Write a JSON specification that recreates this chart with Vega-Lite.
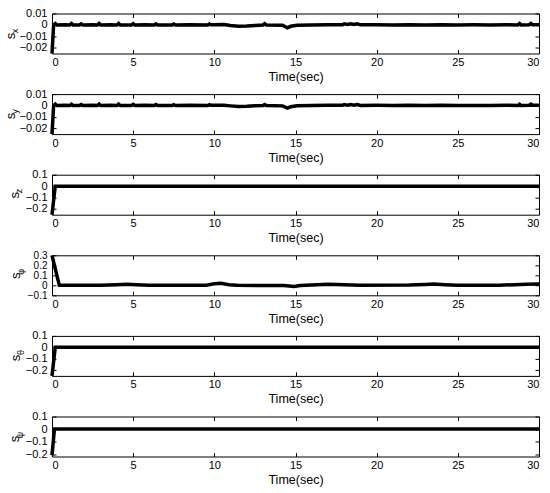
{
  "$schema": "https://vega.github.io/schema/vega-lite/v6.json",
  "background": "white",
  "padding": {"left": 3, "top": 6.5, "right": 4, "bottom": 2},
  "config": {
    "view": {"stroke": "black", "strokeWidth": 1},
    "font": "Liberation Sans",
    "axis": {
      "domain": false, "grid": false, "tickColor": "black", "tickSize": -4, "tickWidth": 1,
      "labelFont": "Liberation Sans", "labelFontSize": 11, "labelColor": "black", "labelOverlap": false, "format": "~g",
      "titleFont": "Liberation Sans", "titleColor": "black", "titleFontWeight": "normal"
    },
    "line": {"color": "black", "strokeWidth": 3.5, "clip": true}
  },
  "data": {"values": [
    {"s":"x","t":0,"v":-0.025},{"s":"x","t":0.1,"v":0.0},{"s":"x","t":0.2,"v":0.0012},{"s":"x","t":0.3,"v":0.0},{"s":"x","t":0.8,"v":0.0002},{"s":"x","t":1.1,"v":0.0},{"s":"x","t":1.2,"v":0.0012},{"s":"x","t":1.3,"v":0.0},{"s":"x","t":1.7,"v":0.0},{"s":"x","t":1.8,"v":0.001},{"s":"x","t":1.9,"v":0.0},{"s":"x","t":2.5,"v":0.0002},{"s":"x","t":2.8,"v":0.0},{"s":"x","t":2.9,"v":0.0013},{"s":"x","t":3.0,"v":0.0},{"s":"x","t":3.6,"v":0.0002},{"s":"x","t":4.0,"v":0.0},{"s":"x","t":4.1,"v":0.0013},{"s":"x","t":4.2,"v":0.0},{"s":"x","t":4.9,"v":0.0},{"s":"x","t":5.0,"v":0.0011},{"s":"x","t":5.1,"v":0.0},{"s":"x","t":5.7,"v":0.0002},{"s":"x","t":6.3,"v":0.0},{"s":"x","t":6.4,"v":0.0009},{"s":"x","t":6.5,"v":0.0},{"s":"x","t":7.4,"v":0.0},{"s":"x","t":7.5,"v":0.0008},{"s":"x","t":7.6,"v":0.0},{"s":"x","t":8.5,"v":0.0002},{"s":"x","t":9.6,"v":0.0},{"s":"x","t":9.7,"v":0.0009},{"s":"x","t":9.8,"v":0.0002},{"s":"x","t":10.6,"v":0.0003},{"s":"x","t":11.0,"v":-0.0004},{"s":"x","t":11.5,"v":-0.0011},{"s":"x","t":12.0,"v":-0.001},{"s":"x","t":12.5,"v":-0.0004},{"s":"x","t":13.0,"v":0.0},{"s":"x","t":13.1,"v":0.0011},{"s":"x","t":13.2,"v":0.0},{"s":"x","t":14.2,"v":-0.0003},{"s":"x","t":14.5,"v":-0.0025},{"s":"x","t":14.7,"v":-0.0012},{"s":"x","t":15.1,"v":-0.0002},{"s":"x","t":16.0,"v":0.0},{"s":"x","t":17.0,"v":0.0002},{"s":"x","t":17.9,"v":0.0002},{"s":"x","t":18.0,"v":0.0009},{"s":"x","t":18.2,"v":0.0004},{"s":"x","t":18.4,"v":0.0009},{"s":"x","t":18.6,"v":0.0004},{"s":"x","t":18.8,"v":0.0009},{"s":"x","t":19.0,"v":0.0001},{"s":"x","t":20.0,"v":0.0002},{"s":"x","t":21.0,"v":0.0},{"s":"x","t":22.0,"v":0.0002},{"s":"x","t":23.0,"v":0.0},{"s":"x","t":24.0,"v":0.0002},{"s":"x","t":25.0,"v":0.0},{"s":"x","t":26.0,"v":0.0001},{"s":"x","t":27.0,"v":0.0},{"s":"x","t":28.0,"v":0.0002},{"s":"x","t":28.7,"v":0.0},{"s":"x","t":28.8,"v":0.0012},{"s":"x","t":28.9,"v":0.0},{"s":"x","t":29.4,"v":0.0002},{"s":"x","t":29.5,"v":0.0013},{"s":"x","t":29.6,"v":0.0002},{"s":"x","t":30.0,"v":0.0002},

    {"s":"y","t":0,"v":-0.025},{"s":"y","t":0.1,"v":0.0},{"s":"y","t":0.2,"v":0.0012},{"s":"y","t":0.3,"v":0.0},{"s":"y","t":0.8,"v":0.0002},{"s":"y","t":1.1,"v":0.0},{"s":"y","t":1.2,"v":0.0011},{"s":"y","t":1.3,"v":0.0},{"s":"y","t":1.7,"v":0.0},{"s":"y","t":1.8,"v":0.0009},{"s":"y","t":1.9,"v":0.0},{"s":"y","t":2.5,"v":0.0002},{"s":"y","t":2.8,"v":0.0},{"s":"y","t":2.9,"v":0.0012},{"s":"y","t":3.0,"v":0.0},{"s":"y","t":3.6,"v":0.0002},{"s":"y","t":4.0,"v":0.0},{"s":"y","t":4.1,"v":0.0012},{"s":"y","t":4.2,"v":0.0},{"s":"y","t":4.9,"v":0.0},{"s":"y","t":5.0,"v":0.001},{"s":"y","t":5.1,"v":0.0},{"s":"y","t":5.7,"v":0.0002},{"s":"y","t":6.3,"v":0.0},{"s":"y","t":6.4,"v":0.0008},{"s":"y","t":6.5,"v":0.0},{"s":"y","t":7.4,"v":0.0},{"s":"y","t":7.5,"v":0.0007},{"s":"y","t":7.6,"v":0.0},{"s":"y","t":8.5,"v":0.0002},{"s":"y","t":9.6,"v":0.0},{"s":"y","t":9.7,"v":0.0008},{"s":"y","t":9.8,"v":0.0002},{"s":"y","t":10.6,"v":0.0002},{"s":"y","t":11.0,"v":-0.0003},{"s":"y","t":11.5,"v":-0.0008},{"s":"y","t":12.0,"v":-0.0007},{"s":"y","t":12.5,"v":-0.0002},{"s":"y","t":13.0,"v":0.0},{"s":"y","t":13.1,"v":0.0009},{"s":"y","t":13.2,"v":0.0},{"s":"y","t":14.2,"v":-0.0003},{"s":"y","t":14.5,"v":-0.0022},{"s":"y","t":14.7,"v":-0.0011},{"s":"y","t":15.1,"v":-0.0002},{"s":"y","t":16.0,"v":0.0},{"s":"y","t":17.0,"v":0.0002},{"s":"y","t":17.9,"v":0.0002},{"s":"y","t":18.0,"v":0.0008},{"s":"y","t":18.2,"v":0.0003},{"s":"y","t":18.4,"v":0.0008},{"s":"y","t":18.6,"v":0.0003},{"s":"y","t":18.8,"v":0.0008},{"s":"y","t":19.0,"v":0.0001},{"s":"y","t":20.0,"v":0.0002},{"s":"y","t":21.0,"v":0.0},{"s":"y","t":22.0,"v":0.0002},{"s":"y","t":23.0,"v":0.0},{"s":"y","t":24.0,"v":0.0002},{"s":"y","t":25.0,"v":0.0},{"s":"y","t":26.0,"v":0.0001},{"s":"y","t":27.0,"v":0.0},{"s":"y","t":28.0,"v":0.0002},{"s":"y","t":28.7,"v":0.0},{"s":"y","t":28.8,"v":0.0011},{"s":"y","t":28.9,"v":0.0},{"s":"y","t":29.4,"v":0.0002},{"s":"y","t":29.5,"v":0.0012},{"s":"y","t":29.6,"v":0.0002},{"s":"y","t":30.0,"v":0.0002},

    {"s":"z","t":0,"v":-0.25},{"s":"z","t":0.2,"v":0.0},{"s":"z","t":30,"v":0.0},

    {"s":"phi","t":0,"v":0.3},{"s":"phi","t":0.45,"v":0.0},{"s":"phi","t":3.0,"v":0.0},{"s":"phi","t":4.0,"v":0.005},{"s":"phi","t":4.6,"v":0.01},{"s":"phi","t":5.2,"v":0.005},{"s":"phi","t":6.0,"v":0.0},{"s":"phi","t":9.5,"v":0.0},{"s":"phi","t":10.0,"v":0.015},{"s":"phi","t":10.4,"v":0.02},{"s":"phi","t":10.9,"v":0.005},{"s":"phi","t":11.4,"v":0.0},{"s":"phi","t":14.3,"v":-0.003},{"s":"phi","t":14.9,"v":-0.012},{"s":"phi","t":15.3,"v":-0.002},{"s":"phi","t":16.0,"v":0.004},{"s":"phi","t":17.0,"v":0.01},{"s":"phi","t":18.0,"v":0.005},{"s":"phi","t":19.0,"v":0.0},{"s":"phi","t":22.0,"v":0.002},{"s":"phi","t":23.0,"v":0.009},{"s":"phi","t":23.5,"v":0.012},{"s":"phi","t":24.2,"v":0.006},{"s":"phi","t":25.0,"v":0.0},{"s":"phi","t":27.5,"v":0.0},{"s":"phi","t":28.5,"v":0.006},{"s":"phi","t":29.2,"v":0.011},{"s":"phi","t":30.0,"v":0.012},

    {"s":"theta","t":0,"v":-0.25},{"s":"theta","t":0.2,"v":0.0},{"s":"theta","t":30,"v":0.0},

    {"s":"psi","t":0,"v":-0.21},{"s":"psi","t":0.15,"v":0.0},{"s":"psi","t":30,"v":0.0}
  ]},
  "vconcat": [
    {
      "width": 487, "height": 40,
      "transform": [{"filter": "datum.s == 'x'"}],
      "layer": [
        {"mark": "line", "encoding": {
          "x": {"field": "t", "type": "quantitative", "scale": {"domain": [0, 30]}, "axis": {"values": [0,5,10,15,20,25,30], "labelPadding": 7, "title": "Time(sec)", "titleFontSize": 12.5, "titlePadding": 3}},
          "y": {"field": "v", "type": "quantitative", "scale": {"domain": [-0.025, 0.01], "nice": false, "zero": false}, "axis": {"values": [-0.02,-0.01,0,0.01], "labelPadding": 9, "title": "s", "titleFontSize": 13, "titleAngle": 270, "titleX": -41.7, "titleY": 22, "titleAlign": "center", "titleBaseline": "middle"}}
        }},
        {"mark": {"type": "line", "opacity": 0}, "encoding": {
          "x": {"field": "t", "type": "quantitative", "scale": {"domain": [0, 30]}, "axis": {"orient": "top", "values": [0,5,10,15,20,25,30], "labels": false, "title": "x", "titleFontSize": 9, "titleAngle": 270, "titleX": -38, "titleY": 17, "titleAlign": "center", "titleBaseline": "middle"}},
          "y": {"field": "v", "type": "quantitative", "scale": {"domain": [-0.025, 0.01], "nice": false, "zero": false}, "axis": {"orient": "right", "values": [-0.02,-0.01,0,0.01], "labels": false, "title": null}}
        }}
      ],
      "resolve": {"axis": {"x": "independent", "y": "independent"}}
    },
    {
      "width": 487, "height": 40,
      "transform": [{"filter": "datum.s == 'y'"}],
      "layer": [
        {"mark": "line", "encoding": {
          "x": {"field": "t", "type": "quantitative", "scale": {"domain": [0, 30]}, "axis": {"values": [0,5,10,15,20,25,30], "labelPadding": 7, "title": "Time(sec)", "titleFontSize": 12.5, "titlePadding": 3}},
          "y": {"field": "v", "type": "quantitative", "scale": {"domain": [-0.025, 0.01], "nice": false, "zero": false}, "axis": {"values": [-0.02,-0.01,0,0.01], "labelPadding": 9, "title": "s", "titleFontSize": 13, "titleAngle": 270, "titleX": -41.7, "titleY": 21.5, "titleAlign": "center", "titleBaseline": "middle"}}
        }},
        {"mark": {"type": "line", "opacity": 0}, "encoding": {
          "x": {"field": "t", "type": "quantitative", "scale": {"domain": [0, 30]}, "axis": {"orient": "top", "values": [0,5,10,15,20,25,30], "labels": false, "title": "y", "titleFontSize": 9, "titleAngle": 270, "titleX": -38, "titleY": 17, "titleAlign": "center", "titleBaseline": "middle"}},
          "y": {"field": "v", "type": "quantitative", "scale": {"domain": [-0.025, 0.01], "nice": false, "zero": false}, "axis": {"orient": "right", "values": [-0.02,-0.01,0,0.01], "labels": false, "title": null}}
        }}
      ],
      "resolve": {"axis": {"x": "independent", "y": "independent"}}
    },
    {
      "width": 487, "height": 40,
      "transform": [{"filter": "datum.s == 'z'"}],
      "layer": [
        {"mark": "line", "encoding": {
          "x": {"field": "t", "type": "quantitative", "scale": {"domain": [0, 30]}, "axis": {"values": [0,5,10,15,20,25,30], "labelPadding": 7, "title": "Time(sec)", "titleFontSize": 12.5, "titlePadding": 3}},
          "y": {"field": "v", "type": "quantitative", "scale": {"domain": [-0.25, 0.1], "nice": false, "zero": false}, "axis": {"values": [-0.2,-0.1,0,0.1], "labelPadding": 9, "title": "s", "titleFontSize": 13, "titleAngle": 270, "titleX": -37.7, "titleY": 20, "titleAlign": "center", "titleBaseline": "middle"}}
        }},
        {"mark": {"type": "line", "opacity": 0}, "encoding": {
          "x": {"field": "t", "type": "quantitative", "scale": {"domain": [0, 30]}, "axis": {"orient": "top", "values": [0,5,10,15,20,25,30], "labels": false, "title": "z", "titleFontSize": 9, "titleAngle": 270, "titleX": -34, "titleY": 15.7, "titleAlign": "center", "titleBaseline": "middle"}},
          "y": {"field": "v", "type": "quantitative", "scale": {"domain": [-0.25, 0.1], "nice": false, "zero": false}, "axis": {"orient": "right", "values": [-0.2,-0.1,0,0.1], "labels": false, "title": null}}
        }}
      ],
      "resolve": {"axis": {"x": "independent", "y": "independent"}}
    },
    {
      "width": 487, "height": 40,
      "transform": [{"filter": "datum.s == 'phi'"}],
      "layer": [
        {"mark": "line", "encoding": {
          "x": {"field": "t", "type": "quantitative", "scale": {"domain": [0, 30]}, "axis": {"values": [0,5,10,15,20,25,30], "labelPadding": 7, "title": "Time(sec)", "titleFontSize": 12.5, "titlePadding": 3}},
          "y": {"field": "v", "type": "quantitative", "scale": {"domain": [-0.1, 0.3], "nice": false, "zero": false}, "axis": {"values": [-0.1,0,0.1,0.2,0.3], "labelPadding": 9, "labelFontSize": 10, "title": "s", "titleFontSize": 13, "titleAngle": 270, "titleX": -36.5, "titleY": 20, "titleAlign": "center", "titleBaseline": "middle"}}
        }},
        {"mark": {"type": "line", "opacity": 0}, "encoding": {
          "x": {"field": "t", "type": "quantitative", "scale": {"domain": [0, 30]}, "axis": {"orient": "top", "values": [0,5,10,15,20,25,30], "labels": false, "title": "φ", "titleFontSize": 9, "titleAngle": 270, "titleX": -32, "titleY": 16, "titleAlign": "center", "titleBaseline": "middle"}},
          "y": {"field": "v", "type": "quantitative", "scale": {"domain": [-0.1, 0.3], "nice": false, "zero": false}, "axis": {"orient": "right", "values": [-0.1,0,0.1,0.2,0.3], "labels": false, "title": null}}
        }}
      ],
      "resolve": {"axis": {"x": "independent", "y": "independent"}}
    },
    {
      "width": 487, "height": 40,
      "transform": [{"filter": "datum.s == 'theta'"}],
      "layer": [
        {"mark": "line", "encoding": {
          "x": {"field": "t", "type": "quantitative", "scale": {"domain": [0, 30]}, "axis": {"values": [0,5,10,15,20,25,30], "labelPadding": 7, "title": "Time(sec)", "titleFontSize": 12.5, "titlePadding": 3}},
          "y": {"field": "v", "type": "quantitative", "scale": {"domain": [-0.25, 0.1], "nice": false, "zero": false}, "axis": {"values": [-0.2,-0.1,0,0.1], "labelPadding": 9, "title": "s", "titleFontSize": 13, "titleAngle": 270, "titleX": -37, "titleY": 21.7, "titleAlign": "center", "titleBaseline": "middle"}}
        }},
        {"mark": {"type": "line", "opacity": 0}, "encoding": {
          "x": {"field": "t", "type": "quantitative", "scale": {"domain": [0, 30]}, "axis": {"orient": "top", "values": [0,5,10,15,20,25,30], "labels": false, "title": "θ", "titleFontSize": 9, "titleAngle": 270, "titleX": -32, "titleY": 16, "titleAlign": "center", "titleBaseline": "middle"}},
          "y": {"field": "v", "type": "quantitative", "scale": {"domain": [-0.25, 0.1], "nice": false, "zero": false}, "axis": {"orient": "right", "values": [-0.2,-0.1,0,0.1], "labels": false, "title": null}}
        }}
      ],
      "resolve": {"axis": {"x": "independent", "y": "independent"}}
    },
    {
      "width": 487, "height": 40,
      "transform": [{"filter": "datum.s == 'psi'"}],
      "layer": [
        {"mark": "line", "encoding": {
          "x": {"field": "t", "type": "quantitative", "scale": {"domain": [0, 30]}, "axis": {"values": [0,5,10,15,20,25,30], "labelPadding": 7, "title": "Time(sec)", "titleFontSize": 12.5, "titlePadding": 3}},
          "y": {"field": "v", "type": "quantitative", "scale": {"domain": [-0.22, 0.1], "nice": false, "zero": false}, "axis": {"values": [-0.2,-0.1,0,0.1], "labelPadding": 9, "title": "s", "titleFontSize": 13, "titleAngle": 270, "titleX": -37.3, "titleY": 22, "titleAlign": "center", "titleBaseline": "middle"}}
        }},
        {"mark": {"type": "line", "opacity": 0}, "encoding": {
          "x": {"field": "t", "type": "quantitative", "scale": {"domain": [0, 30]}, "axis": {"orient": "top", "values": [0,5,10,15,20,25,30], "labels": false, "title": "ψ", "titleFontSize": 9, "titleAngle": 270, "titleX": -32.3, "titleY": 18, "titleAlign": "center", "titleBaseline": "middle"}},
          "y": {"field": "v", "type": "quantitative", "scale": {"domain": [-0.22, 0.1], "nice": false, "zero": false}, "axis": {"orient": "right", "values": [-0.2,-0.1,0,0.1], "labels": false, "title": null}}
        }}
      ],
      "resolve": {"axis": {"x": "independent", "y": "independent"}}
    }
  ],
  "spacing": 40.6,
  "bounds": "flush"
}
